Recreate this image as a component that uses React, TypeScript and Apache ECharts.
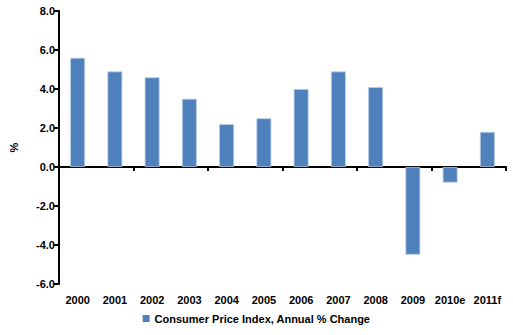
import React, { useEffect, useRef } from "react";
import * as echarts from "echarts";

const categories = ["2000", "2001", "2002", "2003", "2004", "2005", "2006", "2007", "2008", "2009", "2010e", "2011f"];
const cpiValues = [5.6, 4.9, 4.6, 3.5, 2.2, 2.5, 4.0, 4.9, 4.1, -4.5, -0.8, 1.8];
const seriesName = "Consumer Price Index, Annual % Change";
const yTitle = "%";

export default function App() {
  const ref = useRef<HTMLDivElement>(null);
  useEffect(() => {
    if (!ref.current) return;
    const chart = echarts.init(ref.current, undefined, { renderer: "svg" });
    const font = "Liberation Sans, Arial, sans-serif";
    chart.setOption({
      animation: false,
      backgroundColor: "#ffffff",
      textStyle: { fontFamily: font },
      grid: { left: 56, right: 7, top: 11, bottom: 51, containLabel: false },
      legend: {
        bottom: 6,
        left: "center",
        itemWidth: 7,
        itemHeight: 7,
        itemGap: 10,
        icon: "rect",
        itemStyle: { borderWidth: 0, color: "#4F81BD" },
        textStyle: { fontFamily: font, fontSize: 11, fontWeight: "bold", color: "#000" },
        data: [seriesName],
      },
      xAxis: [
        {
          type: "category",
          data: categories,
          axisLine: { onZero: true, lineStyle: { color: "#000", width: 2 } },
          axisTick: { show: true, inside: false, length: 4, lineStyle: { color: "#000", width: 2 }, alignWithLabel: false },
          axisLabel: { show: false },
          splitLine: { show: false },
        },
        {
          type: "category",
          data: categories,
          position: "bottom",
          axisLine: { show: false, onZero: false },
          axisTick: { show: false },
          axisLabel: {
            show: true,
            margin: 10,
            interval: 0,
            fontFamily: font,
            fontSize: 11,
            fontWeight: "bold",
            color: "#000",
          },
          splitLine: { show: false },
        },
      ],
      yAxis: {
        type: "value",
        min: -6,
        max: 8,
        interval: 2,
        name: yTitle,
        nameLocation: "middle",
        nameGap: 40,
        nameRotate: 90,
        nameTextStyle: { fontFamily: font, fontSize: 11, fontWeight: "bold", color: "#000" },
        axisLine: { show: true, lineStyle: { color: "#000", width: 2 } },
        axisTick: { show: true, inside: false, length: 5, lineStyle: { color: "#000", width: 2 } },
        axisLabel: {
          margin: 4,
          fontFamily: font,
          fontSize: 11,
          fontWeight: "bold",
          color: "#000",
          formatter: (v: number) => v.toFixed(1),
        },
        splitLine: { show: false },
      },
      series: [
        {
          name: seriesName,
          type: "bar",
          xAxisIndex: 0,
          data: cpiValues,
          barWidth: "40%",
          itemStyle: { color: "#4F81BD", borderColor: "#B9CDE5", borderWidth: 0.8 },
        },
      ],
    });
    return () => chart.dispose();
  }, []);
  return <div ref={ref} style={{ width: 513, height: 335, position: "absolute", left: 0, top: 0 }} />;
}
